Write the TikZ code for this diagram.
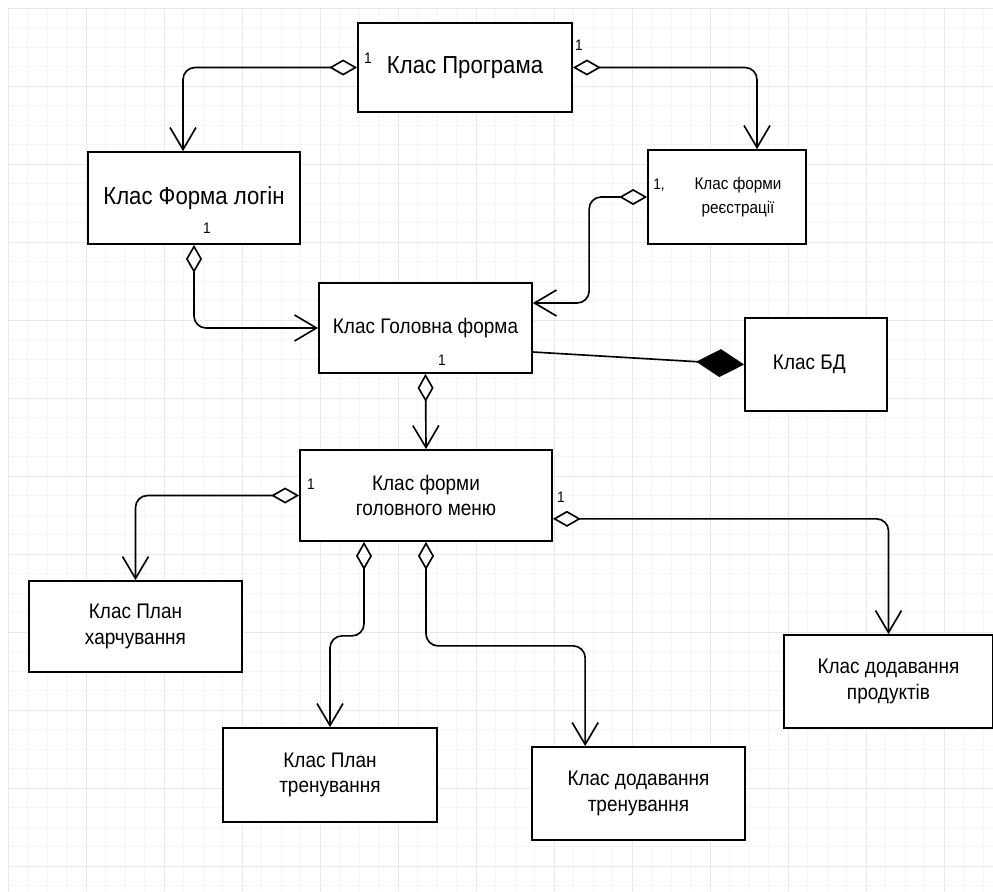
\documentclass[tikz,border=0pt]{standalone}
\usepackage{fontspec}
\setmainfont[FakeStretch=0.9]{Liberation Sans}
\usetikzlibrary{arrows.meta}

\begin{document}
\begin{tikzpicture}[x=0.03cm, y=-0.03cm,
    cls/.style={draw, line width=1.5pt, fill=white, align=center, inner sep=0pt,
        font=\fontsize{18}{21.5}\selectfont},
    boxsize/.style 2 args={minimum width=#1*0.03cm, minimum height=#2*0.03cm},
    mult/.style={inner sep=0pt, font=\fontsize{13}{15}\selectfont},
    agg/.style={line width=1.4pt, rounded corners=0.36cm,
        {Diamond[open,length=8.4mm,width=4.8mm]}-{Straight Barb[length=6.6mm,width=7.8mm]}},
    comp/.style={line width=1.4pt, -{Diamond[length=14.4mm,width=8.4mm]}}]
    \useasboundingbox (0,0) rectangle (993,891);
    \fill[white] (0,0) rectangle (993,891);
    \draw[black!4, line width=0.4pt, step=0.585cm, shift={(8,8)}] (0,0) grid (985,883);
    \draw[black!9, line width=0.6pt, step=2.34cm, shift={(8,8)}] (0,0) grid (985,883);

    \node[cls, boxsize={214}{89}, font=\fontsize{21}{25}\selectfont] (prog) at (465,67.5) {Клас Програма};
    \node[cls, boxsize={212}{92}, font=\fontsize{21}{25}\selectfont] (login) at (194,198) {Клас Форма логін};
    \node[cls, boxsize={158}{94}, font=\fontsize{14.5}{20}\selectfont] (reg) at (727,197)
        {\hspace*{0.66cm}Клас форми\\\hspace*{0.66cm}реєстрації};
    \node[cls, boxsize={213}{90}] (main) at (425.5,328) {Клас Головна форма};
    \node[cls, boxsize={142}{93}] (db) at (816,364.5) {Клас БД\hspace*{0.4cm}};
    \node[cls, boxsize={252}{91}] (menu) at (426,495.5) {Клас форми\\головного меню};
    \node[cls, boxsize={213}{91}] (food) at (135.5,626.5) {Клас План\\харчування};
    \node[cls, boxsize={214}{94}] (train) at (330,775) {Клас План\\тренування};
    \node[cls, boxsize={213}{93}] (addtrain) at (638.5,793.5) {Клас додавання\\тренування};
    \node[cls, boxsize={209}{93}] (addprod) at (888.5,681.5) {Клас додавання\\продуктів};

    \node[mult] (m1) at (368,58) {1};
    \node[mult] (m2) at (579,45) {1};
    \node[mult] (m3) at (207,228) {1};
    \node[mult] (m4) at (659,185) {1,};
    \node[mult] (m5) at (442,360) {1};
    \node[mult] (m6) at (311,484) {1};
    \node[mult] (m7) at (561,497) {1};

    \draw[agg] (prog.west) -| ([xshift=-0.33cm]login.north);
    \draw[agg] (prog.east) -| ([xshift=0.9cm]reg.north);
    \draw[agg] (login.south) |- (main.west);
    \draw[agg] (reg.west) -- ++(-58,0) |- ([yshift=0.75cm]main.east);
    \draw[comp] ([yshift=-0.72cm]main.east) -- (db.west);
    \draw[agg] (main.south) -- (menu.north);
    \draw[agg] (menu.west) -| (food.north);
    \draw[agg] ([xshift=-1.86cm]menu.south) -- ++(0,94) -| (train.north);
    \draw[agg] (menu.south) -- ++(0,104) -| ([xshift=-1.6cm]addtrain.north);
    \draw[agg] ([yshift=-0.7cm]menu.east) -| (addprod.north);
\end{tikzpicture}
\end{document}
